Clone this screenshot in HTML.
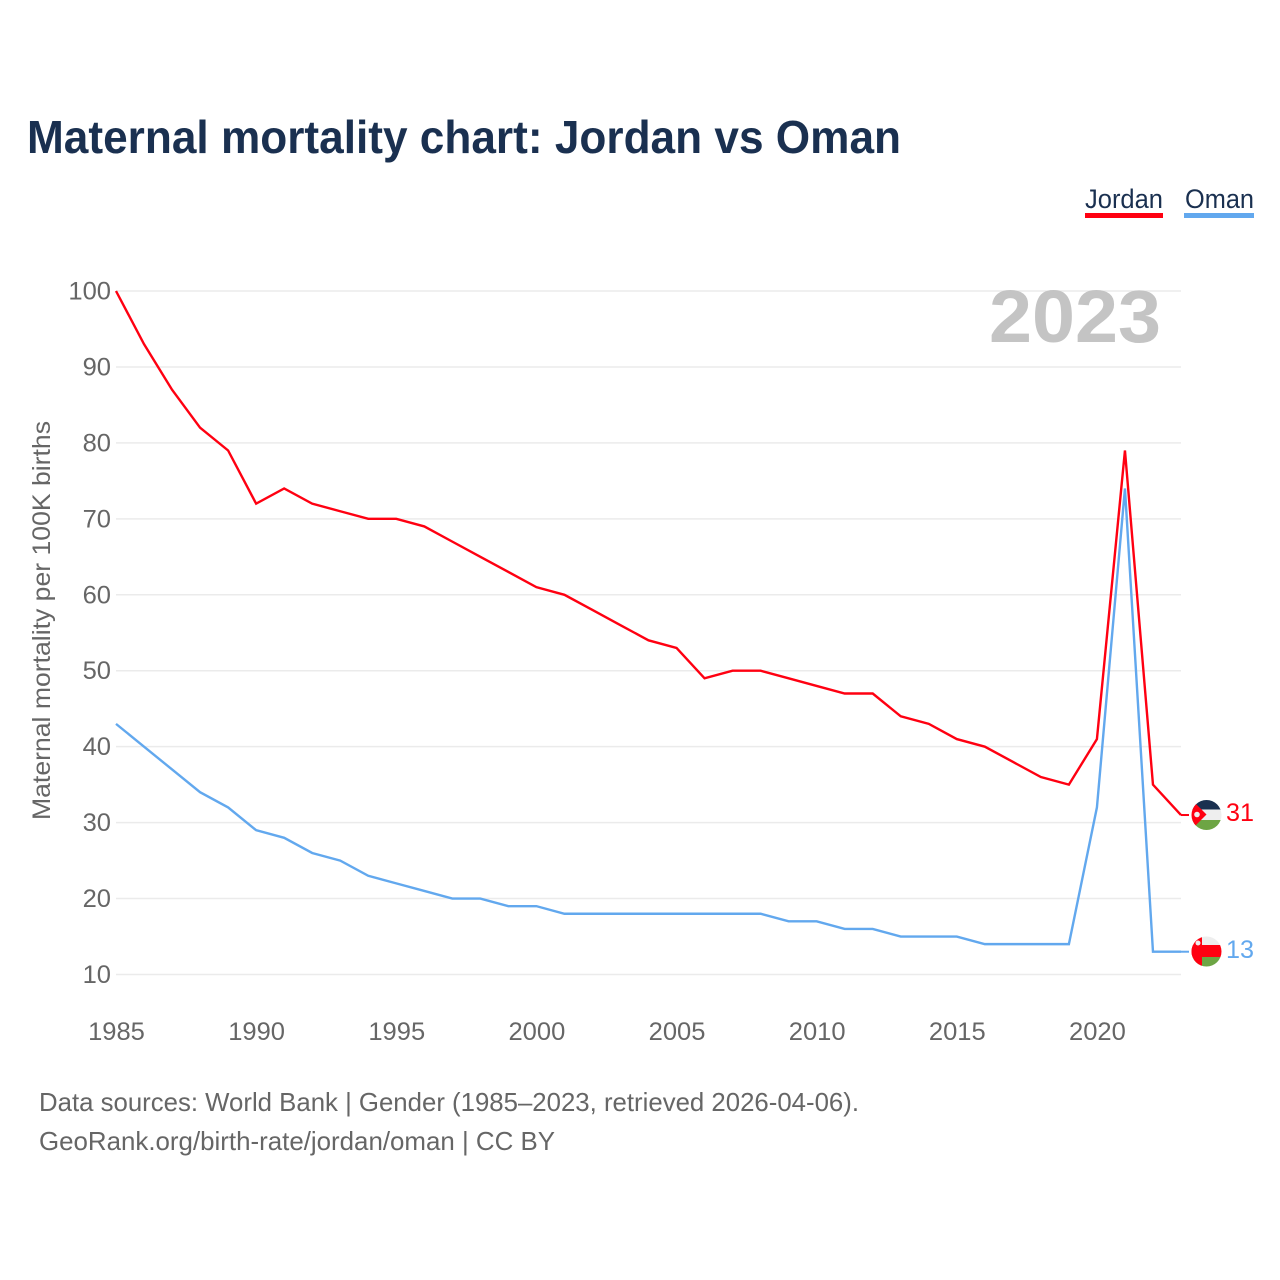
<!DOCTYPE html>
<html>
<head>
<meta charset="utf-8">
<title>Maternal mortality chart: Jordan vs Oman</title>
<style>
html,body{margin:0;padding:0;background:#fff;width:1280px;height:1280px;overflow:hidden}
svg{display:block;font-family:"Liberation Sans",sans-serif}
</style>
</head>
<body>
<svg id="chart" width="1280" height="1280" viewBox="0 0 1280 1280" xmlns="http://www.w3.org/2000/svg">
<defs>
<clipPath id="clip-jordan"><circle cx="1206.5" cy="815" r="15"/></clipPath>
<clipPath id="clip-oman"><circle cx="1206.5" cy="951.5" r="15"/></clipPath>
</defs>
<text x="27" y="153" font-size="46" font-weight="700" fill="#1a3050" textLength="874" lengthAdjust="spacingAndGlyphs">Maternal mortality chart: Jordan vs Oman</text>

<g>
<g>
<text x="1085" y="208" font-size="27" fill="#1a3050" textLength="78" lengthAdjust="spacingAndGlyphs">Jordan</text>
<rect x="1085" y="213" width="78" height="5" fill="#ff0011"/>
</g>
<g>
<text x="1185" y="208" font-size="27" fill="#1a3050" textLength="69" lengthAdjust="spacingAndGlyphs">Oman</text>
<rect x="1184" y="213" width="70" height="5" fill="#62a8ee"/>
</g>
</g>

<g id="grid"></g>
<g id="yticks"></g>
<g id="xticks"></g>

<text transform="translate(50,820) rotate(-90)" font-size="25" fill="#666666" textLength="399" lengthAdjust="spacingAndGlyphs">Maternal mortality per 100K births</text>

<text x="1161" y="342" text-anchor="end" font-size="74" font-weight="700" fill="#c4c4c4" textLength="172" lengthAdjust="spacingAndGlyphs">2023</text>

<path id="line-oman" fill="none" stroke="#62a8ee" stroke-width="2.4" stroke-linejoin="miter"/>
<path id="line-jordan" fill="none" stroke="#ff0011" stroke-width="2.4" stroke-linejoin="miter"/>
<path id="leader-jordan" fill="none" stroke="#ff0011" stroke-width="2"/>
<path id="leader-oman" fill="none" stroke="#62a8ee" stroke-width="2"/>

<g clip-path="url(#clip-jordan)">
<rect x="1191" y="799" width="31" height="11" fill="#1a3050"/>
<rect x="1191" y="809.5" width="31" height="11" fill="#eeeeee"/>
<rect x="1191" y="820" width="31" height="11" fill="#6da544"/>
<polygon points="1185,793 1206.5,814.5 1185,836" fill="#ff0011"/>
<circle cx="1197" cy="814.5" r="2.8" fill="#eeeeee"/>
</g>
<g clip-path="url(#clip-oman)">
<rect x="1191" y="936" width="31" height="10" fill="#eeeeee"/>
<rect x="1191" y="957" width="31" height="10" fill="#6da544"/>
<rect x="1191" y="936" width="11" height="31" fill="#ff0011"/>
<rect x="1191" y="945" width="31" height="12" fill="#ff0011"/>
<circle cx="1198" cy="943" r="2.5" fill="#eeeeee"/>
</g>

<text id="value-jordan" x="1226" y="821" font-size="25" fill="#ff0011" textLength="28" lengthAdjust="spacingAndGlyphs"></text>
<text id="value-oman" x="1226" y="958" font-size="25" fill="#62a8ee" textLength="28" lengthAdjust="spacingAndGlyphs"></text>

<text x="39" y="1111" font-size="26" fill="#666666" textLength="820" lengthAdjust="spacingAndGlyphs">Data sources: World Bank | Gender (1985–2023, retrieved 2026-04-06).</text>
<text x="39" y="1150" font-size="26" fill="#666666" textLength="516" lengthAdjust="spacingAndGlyphs">GeoRank.org/birth-rate/jordan/oman | CC BY</text>
</svg>
<script>
const firstYear = 1985;
const jordanValues = [100,93,87,82,79,72,74,72,71,70,70,69,67,65,63,61,60,58,56,54,53,49,50,50,49,48,47,47,44,43,41,40,38,36,35,41,79,35,31];
const omanValues = [43,40,37,34,32,29,28,26,25,23,22,21,20,20,19,19,18,18,18,18,18,18,18,18,17,17,16,16,15,15,15,14,14,14,14,32,74,13,13];
const yTickLabels = [10,20,30,40,50,60,70,80,90,100];
const xTickLabels = [1985,1990,1995,2000,2005,2010,2015,2020];

const NS = 'http://www.w3.org/2000/svg';
function xScale(year){ return 116 + (year - 1985) * (1181 - 116) / 38; }
function yScale(v){ return 974.5 - (v - 10) * (974.5 - 291) / 90; }
function linePath(vals){
  return vals.map(function(v,i){
    return (i ? 'L' : 'M') + xScale(firstYear + i).toFixed(2) + ' ' + yScale(v).toFixed(2);
  }).join(' ');
}
function widthFor(label){ return String(label).length * 14.2; }

const grid = document.getElementById('grid');
const yticks = document.getElementById('yticks');
const xticks = document.getElementById('xticks');

yTickLabels.forEach(function(t){
  const l = document.createElementNS(NS,'line');
  
  
  l.setAttribute('x1', xScale(1985));
  l.setAttribute('x2', xScale(2023));
  l.setAttribute('y1', yScale(t));
  l.setAttribute('y2', yScale(t));
  l.setAttribute('stroke', '#ebebeb');
  l.setAttribute('stroke-width', '1.5');
  grid.appendChild(l);
  const s = document.createElementNS(NS,'text');
  
  
  s.setAttribute('x', 111);
  s.setAttribute('y', yScale(t) + 8.5);
  s.setAttribute('text-anchor', 'end');
  s.setAttribute('font-size', '25');
  s.setAttribute('fill', '#666666');
  s.setAttribute('textLength', widthFor(t));
  s.setAttribute('lengthAdjust', 'spacingAndGlyphs');
  s.textContent = t;
  yticks.appendChild(s);
});

xTickLabels.forEach(function(t){
  const s = document.createElementNS(NS,'text');
  
  
  s.setAttribute('x', xScale(t) + 0.5);
  s.setAttribute('y', 1040);
  s.setAttribute('text-anchor', 'middle');
  s.setAttribute('font-size', '25');
  s.setAttribute('fill', '#666666');
  s.setAttribute('textLength', widthFor(t));
  s.setAttribute('lengthAdjust', 'spacingAndGlyphs');
  s.textContent = t;
  xticks.appendChild(s);
});

document.getElementById('line-jordan').setAttribute('d', linePath(jordanValues));
document.getElementById('line-oman').setAttribute('d', linePath(omanValues));

const lastX = xScale(firstYear + jordanValues.length - 1);
const lastJ = jordanValues[jordanValues.length - 1];
const lastO = omanValues[omanValues.length - 1];
document.getElementById('leader-jordan').setAttribute('d', 'M' + lastX + ' ' + yScale(lastJ) + ' H1189');
document.getElementById('leader-oman').setAttribute('d', 'M' + lastX + ' ' + yScale(lastO) + ' H1189');
document.getElementById('value-jordan').textContent = lastJ;
document.getElementById('value-oman').textContent = lastO;
</script>
</body>
</html>
